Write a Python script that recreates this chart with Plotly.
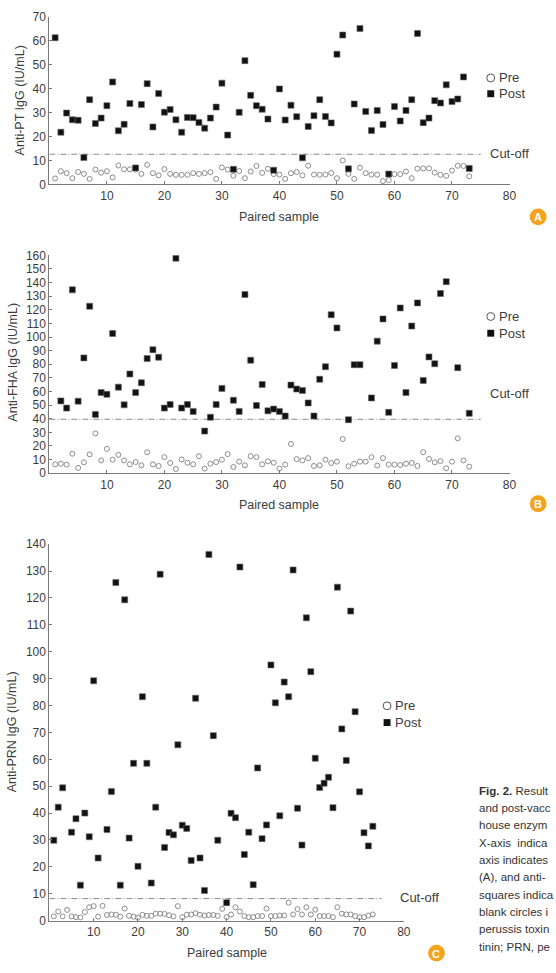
import plotly.graph_objects as go

W, H = 556, 973
FONT = "Liberation Sans, Arial, sans-serif"
TXT = "#3c3c3c"
AX = "#7a7a7a"

samples = list(range(1, 74))

pt_pre = [2.5, 5.5, 4.7, 2.6, 5.2, 4.4, 2.3, 6.2, 4.9, 5.5, 2.9, 7.9, 6.3, 6.3, 6.2, 4.4, 8.2, 4.7, 3.8, 6.4,
          4.4, 4.0, 4.0, 4.0, 4.7, 4.4, 4.7, 5.1, 2.3, 7.1, 6.2, 3.6, 5.6, 2.6, 5.4, 7.7, 4.8, 6.5, 4.3, 4.1,
          2.3, 4.7, 5.2, 3.8, 7.8, 4.1, 4.0, 4.1, 4.8, 2.6, 10.0, 4.4, 2.3, 7.0, 4.7, 4.1, 4.1, 1.4, 1.8, 4.3,
          4.3, 5.4, 2.6, 6.6, 6.7, 6.7, 4.9, 4.0, 3.6, 5.8, 7.8, 7.7, 3.4]
pt_post = [61.3, 21.8, 29.8, 27.0, 26.8, 11.2, 35.4, 25.5, 27.7, 32.9, 42.8, 22.4, 25.1, 33.8, 6.9, 33.4, 42.1, 24.0, 38.0, 30.2,
           31.3, 27.0, 21.8, 28.0, 27.9, 25.9, 23.5, 27.7, 32.3, 42.3, 20.6, 6.3, 30.1, 51.7, 37.2, 32.9, 31.4, 27.3, 5.9, 39.9,
           26.9, 33.1, 28.3, 11.1, 24.2, 28.7, 35.4, 28.4, 25.7, 54.4, 62.4, 6.5, 33.6, 65.1, 30.5, 22.5, 30.9, 25.0, 4.3, 32.5,
           26.5, 30.9, 35.4, 63.1, 25.8, 27.7, 35.0, 34.0, 41.6, 34.6, 35.7, 44.9, 6.7]

fha_pre = [6.5, 7.0, 6.3, 14.3, 3.9, 8.0, 13.8, 29.2, 9.4, 17.9, 9.9, 13.5, 9.4, 6.5, 8.2, 5.8, 15.4, 6.5, 5.3, 11.8,
           7.5, 3.1, 10.1, 7.7, 6.5, 12.5, 3.4, 7.0, 8.2, 9.9, 14.0, 4.6, 8.5, 5.8, 12.5, 11.8, 6.5, 8.7, 7.7, 3.4,
           6.3, 21.5, 10.4, 9.4, 11.1, 5.3, 5.8, 9.9, 7.5, 8.5, 25.1, 5.1, 7.0, 8.5, 8.5, 11.8, 5.6, 11.1, 6.3, 6.3,
           6.0, 7.0, 7.5, 5.3, 15.4, 10.4, 8.0, 8.9, 3.6, 8.5, 25.6, 9.4, 4.8]
fha_post = [None, 53.1, 47.8, 134.7, 52.9, 84.7, 122.6, 43.2, 59.2, 57.9, 102.6, 63.2, 50.2, 72.9, 59.2, 66.4, 84.2, 90.7, 85.2, 47.8,
            50.5, 157.9, 47.8, 50.5, 45.4, None, 30.9, 41.1, 50.5, 62.3, None, 53.6, 45.4, 131.3, 83.0, 49.7, 65.2, 45.8, 47.1, 45.4,
            42.0, 64.7, 61.8, 60.8, 51.6, 42.0, 69.0, 78.2, 116.4, 106.7, None, 39.3, 79.7, 79.7, None, 55.3, 97.0, 113.3, 44.7, 79.1,
            121.4, 59.2, 108.1, 125.1, 68.1, 85.4, 80.4, 132.0, 140.7, None, 77.5, None, 44.0]

prn_pre = [1.6, 3.4, 1.6, 4.0, 1.6, 1.3, 1.2, 3.2, 5.0, 5.4, 1.5, 5.5, 2.1, 2.3, 2.2, 1.5, 4.5, 1.8, 1.5, 1.1,
           2.2, 1.8, 1.8, 2.6, 2.6, 2.5, 2.0, 1.6, 5.4, 1.3, 2.2, 2.3, 2.8, 2.2, 1.9, 2.1, 2.1, 1.8, 4.4, 1.3,
           2.3, 5.0, 3.4, 1.7, 1.3, 1.3, 1.7, 1.7, 4.5, 1.7, 1.7, 1.9, 1.9, 6.7, 2.3, 4.3, 2.3, 5.0, 2.3, 4.1,
           1.7, 1.7, 1.7, 1.3, 5.0, 2.6, 2.3, 2.3, 1.7, 1.3, 1.3, 1.9, 2.3]
prn_post = [29.9, 42.2, 49.4, None, 32.9, 37.9, 13.2, 40.0, 31.2, 89.2, 23.3, None, 33.9, 48.0, 125.7, 13.2, 119.3, 30.7, 58.5, 20.2,
            83.3, 58.5, 14.0, 42.2, 128.8, 27.2, 32.8, 31.9, 65.4, 35.5, 34.3, 22.4, 82.7, 23.3, 11.2, 136.2, 68.8, 29.9, None, 6.7,
            39.9, 38.3, 131.5, 24.6, 32.9, 13.4, 56.8, 30.5, 35.6, 95.1, 81.0, 39.0, 88.7, 83.3, 130.4, 41.8, 28.1, 112.6, 92.6, 60.4,
            49.5, 51.1, 53.3, 42.0, 124.0, 71.3, 59.6, 115.1, 77.7, 47.9, 32.7, 27.8, 35.1]

pt_cutoff = 12.6
fha_cutoff = 39.6
prn_cutoff = 8.2
cutoff_span = [0, 75]

y_titles = ["Anti-PT IgG (IU/mL)", "Anti-FHA IgG (IU/mL)", "Anti-PRN IgG (IU/mL)"]
x_title = "Paired sample"
panel_letters = ["A", "B", "C"]
x_ticks = [10, 20, 30, 40, 50, 60, 70, 80]

# caption as visible in the (cropped) reference
caption_lines = [
    "<b>Fig. 2.</b> Result",
    "and post-vacc",
    "house enzym",
    "X-axis  indica",
    "axis indicates",
    "(A), and anti-",
    "squares indica",
    "blank circles i",
    "perussis toxin",
    "tinin; PRN, pe",
]


def px(x):
    return x / W


def py(y):
    return 1 - y / H


panels = [
    dict(xd=(50, 516), yd=(180, 10), yr=70, pre=pt_pre, post=pt_post, cut=pt_cutoff),
    dict(xd=(50, 516), yd=(473, 252), yr=160, pre=fha_pre, post=fha_post, cut=fha_cutoff),
    dict(xd=(50, 409), yd=(927, 545), yr=140, pre=prn_pre, post=prn_post, cut=prn_cutoff),
]

fig = go.Figure()
layout = dict(
    width=W, height=H, autosize=False,
    margin=dict(l=0, r=0, t=0, b=0),
    paper_bgcolor="white", plot_bgcolor="white",
    showlegend=False,
    font=dict(family=FONT, color=TXT, size=12),
)

for i, p in enumerate(panels):
    n = "" if i == 0 else str(i + 1)
    xa, ya = "x" + n, "y" + n
    fig.add_trace(go.Scatter(
        x=cutoff_span, y=[p["cut"], p["cut"]], mode="lines", xaxis=xa, yaxis=ya,
        line=dict(color="#8a8a8a", width=1, dash="6px,2px,1px,2px"), hoverinfo="skip"))
    fig.add_trace(go.Scatter(
        x=samples, y=p["pre"], mode="markers", xaxis=xa, yaxis=ya, name="Pre",
        marker=dict(symbol="circle-open", size=5, color="#8c8c8c", line=dict(width=1))))
    fig.add_trace(go.Scatter(
        x=samples, y=p["post"], mode="markers", xaxis=xa, yaxis=ya, name="Post",
        marker=dict(symbol="square", size=6, color="#111111", line=dict(width=0.6, color="#666666"))))
    common = dict(showline=True, linecolor=AX, linewidth=1, ticks="inside", ticklen=3,
                  tickcolor=AX, showgrid=False, zeroline=False,
                  tickfont=dict(family=FONT, size=12, color=TXT))
    layout["xaxis" + n] = dict(common, domain=[px(p["xd"][0]), px(p["xd"][1])], range=[0, 80],
                               tickvals=x_ticks, anchor=ya)
    layout["yaxis" + n] = dict(common, domain=[py(p["yd"][0]), py(p["yd"][1])], range=[0, p["yr"]],
                               dtick=10, anchor=xa)

fig.update_layout(**layout)

ann = []
shapes = []


def text(t, x, y, size=12, xanchor="center", color=TXT, angle=0, family=FONT):
    ann.append(dict(text=t, x=px(x), y=py(y), xref="paper", yref="paper", showarrow=False,
                    xanchor=xanchor, yanchor="middle", textangle=angle,
                    font=dict(size=size, family=family, color=color)))


for t, (x, y) in zip(y_titles, [(20, 95), (13, 360), (13, 735)]):
    text(t, x, y, size=12.5, angle=-90)
for (x, y) in [(283, 213), (283, 505), (230, 960)]:
    text(x_title, x, y, size=12.5)

# legends
for (x, y1, y2) in [(497, 72, 88), (497, 314, 331), (392, 709, 726)]:
    shapes.append(dict(type="circle", xref="paper", yref="paper", x0=px(x - 4), x1=px(x + 4),
                       y0=py(y1 + 4), y1=py(y1 - 4), line=dict(color="#555", width=1)))
    shapes.append(dict(type="rect", xref="paper", yref="paper", x0=px(x - 3.5), x1=px(x + 3.5),
                       y0=py(y2 + 3.5), y1=py(y2 - 3.5), fillcolor="#111", line=dict(width=0)))
    text("Pre", x + 6, y1, size=13, xanchor="left")
    text("Post", x + 6, y2, size=13, xanchor="left")

for (x, y) in [(494, 149), (494, 392), (403, 904)]:
    text("Cut-off", x, y, size=13, xanchor="left")

for letter, (x, y) in zip(panel_letters, [(545, 213), (545, 504), (442, 960)]):
    shapes.append(dict(type="circle", xref="paper", yref="paper", x0=px(x - 8.5), x1=px(x + 8.5),
                       y0=py(y + 8.5), y1=py(y - 8.5), fillcolor="#F5A31C", line=dict(width=0)))
    text("<b>%s</b>" % letter, x, y + 0.5, size=11, color="white")

for k, line in enumerate(caption_lines):
    text(line, 483, 795 + 17.6 * k, size=11.5, xanchor="left", color="#333")

fig.update_layout(annotations=ann, shapes=shapes)
fig.write_html("out.html")
